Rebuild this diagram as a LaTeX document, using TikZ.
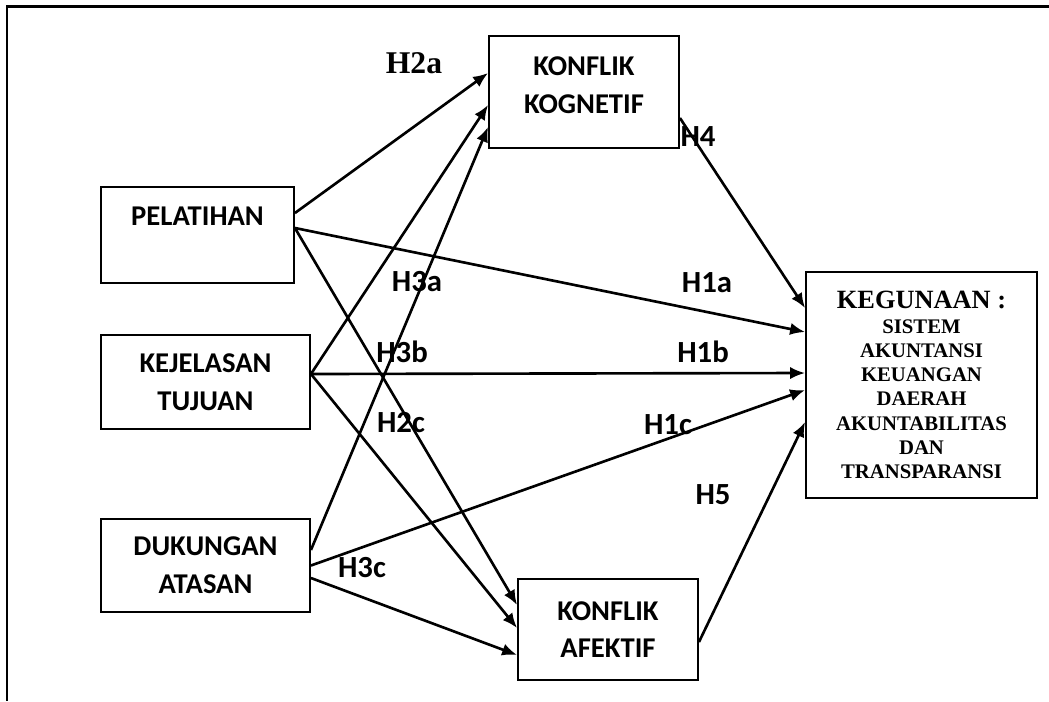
\documentclass[tikz,border=0pt]{standalone}
\usepackage{fontspec}
\setmainfont{Liberation Serif}
\newfontfamily\calibri{Carlito}
\usetikzlibrary{calc,arrows.meta}

\begin{document}
\begin{tikzpicture}[x=0.02cm, y=-0.02cm,
		box/.style={rectangle, draw, line width=1.1pt, align=center, 
		font=\calibri\bfseries\fontsize{16.3}{21.5}\selectfont},
		hyp/.style={inner sep=0pt, font=\calibri\bfseries\fontsize{17.5}{20}\selectfont},
		link/.style={-{Latex[length=8.5pt,width=7pt]}, line width=1.5pt}]
		
		\useasboundingbox (0,0) rectangle (1049,701);
		
		%Frame
		\draw[line width=1.7pt] (1049,6) -- (7,6) -- (7,701);
		
		%Boxes
		\node (pelatihan) at (197.5,235) [box, minimum width=3.86cm, minimum 
		height=1.92cm] {PELATIHAN\\~};
		\node (kejelasan) at (205.5,382) [box, minimum width=4.18cm, minimum 
		height=1.88cm] {KEJELASAN\\TUJUAN};
		\node (dukungan) at (205.5,565.5) [box, minimum width=4.18cm, minimum 
		height=1.86cm] {DUKUNGAN\\ATASAN};
		\node (kognetif) at (584,92) [box, minimum width=3.80cm, minimum 
		height=2.24cm, text depth=8pt] {KONFLIK\\KOGNETIF};
		\node (afektif) at (608,629.5) [box, minimum width=3.60cm, minimum 
		height=2.02cm] {KONFLIK\\AFEKTIF};
		\node (kegunaan) at (921.5,385) [box, minimum width=4.62cm, minimum 
		height=4.52cm, font=\bfseries\fontsize{11.8}{13.8}\selectfont] 
		{{\fontsize{15}{16}\selectfont KEGUNAAN :}\\SISTEM\\AKUNTANSI\\KEUANGAN\\DAERAH\\AKUNTABILITAS\\DAN\\TRANSPARANSI};
		
		%Arrows
		\draw[link] ($(pelatihan.east)+(0,-22)$) -- ($(kognetif.west)+(0,-19)$);
		\draw[link] ($(pelatihan.east)+(0,-7)$) -- ($(kegunaan.west)+(0,-53)$);
		\draw[link] ($(pelatihan.east)+(0,-7)$) -- ($(afektif.west)+(0,-24.5)$);
		\draw[link] ($(kejelasan.east)+(0,-8)$) -- ($(kognetif.west)+(0,13)$);
		\draw[link] ($(kejelasan.east)+(0,-8)$) -- ($(kegunaan.west)+(0,-12)$);
		\draw[link] ($(kejelasan.east)+(0,-8)$) -- ($(afektif.west)+(0,-1.5)$);
		\draw[link] ($(dukungan.east)+(0,-15.5)$) -- ($(kognetif.west)+(0,35)$);
		\draw[link] ($(dukungan.east)+(0,0)$) -- ($(kegunaan.west)+(0,5)$);
		\draw[link] ($(dukungan.east)+(0,12.5)$) -- ($(afektif.west)+(0,25.5)$);
		\draw[link] ($(kognetif.east)+(0,26)$) -- ($(kegunaan.west)+(0,-77)$);
		\draw[link] ($(afektif.east)+(0,12.5)$) -- ($(kegunaan.west)+(0,37)$);
		
		%Labels
		\node (h2a) at (414,63) [inner sep=0pt, font=\bfseries\fontsize{18}{20}\selectfont] {H2a};
		\node (h4) at (698,137) [hyp] {H4};
		\node (h3a) at (417,282) [hyp] {H3a};
		\node (h1a) at (707,283) [hyp] {H1a};
		\node (h3b) at (402,352) [hyp] {H3b};
		\node (h1b) at (703,352) [hyp] {H1b};
		\node (h2c) at (401,423) [hyp] {H2c};
		\node (h1c) at (668,425) [hyp] {H1c};
		\node (h5) at (713,495) [hyp] {H5};
		\node (h3c) at (362,568) [hyp] {H3c};
		
		\end{tikzpicture}
\end{document}
